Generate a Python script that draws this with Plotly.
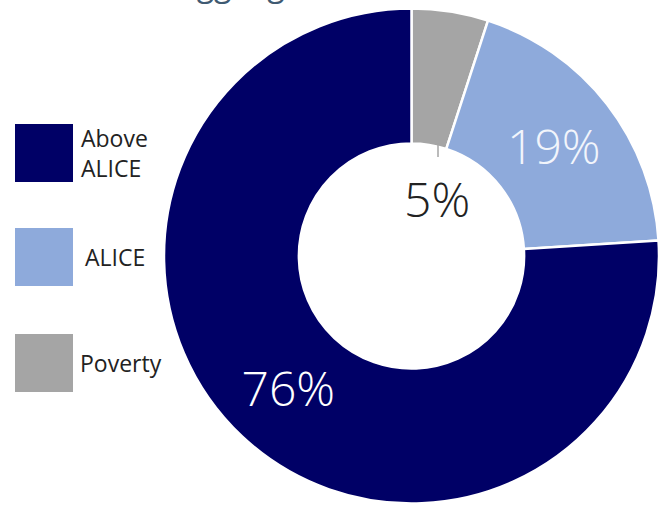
import plotly.graph_objects as go

# Data (legend order)
labels = ["Above ALICE", "ALICE", "Poverty"]
legend_text = ["Above<br>ALICE", "ALICE", "Poverty"]
values = [76, 19, 5]
colors = ["#000066", "#8eaadb", "#a5a5a5"]
text_colors = ["#ffffff", "#f2f5fb", "#222222"]
title_text = "Struggling"

W, H = 667, 508

def px(x):
    return x / W

def py(y):
    return 1 - y / H

slice_text = [f"{v}%" if v >= 10 else "" for v in values]

# pie drawn clockwise from 12 o'clock: Poverty, ALICE, Above ALICE
fig = go.Figure(go.Pie(
    labels=labels[::-1],
    values=values[::-1],
    marker=dict(colors=colors[::-1], line=dict(color="white", width=2.5)),
    hole=0.455,
    sort=False,
    direction="clockwise",
    rotation=0,
    text=slice_text[::-1],
    textinfo="text",
    textposition="inside",
    insidetextorientation="horizontal",
    insidetextfont=dict(size=48, color=text_colors[::-1], family="Open Sans", weight=300),
    hoverinfo="label+percent",
    showlegend=False,
    domain=dict(x=[px(411.5 - 247.5), px(411.5 + 247.5)],
                y=[py(503.5), py(8.5)]),
))

shapes = []
annotations = []
# custom large legend swatches
sw_top = [124, 228, 334]
text_x = [79, 83, 78]
for i, lab in enumerate(labels):
    shapes.append(dict(type="rect", xref="paper", yref="paper",
                       x0=px(15), x1=px(73), y0=py(sw_top[i] + 58), y1=py(sw_top[i]),
                       fillcolor=colors[i], line=dict(width=0)))
    annotations.append(dict(text=legend_text[i], xref="paper", yref="paper",
                            x=px(text_x[i]), y=py(sw_top[i] + 29),
                            xanchor="left", yanchor="middle", align="left",
                            showarrow=False,
                            font=dict(size=23, color="#222222", family="Open Sans")))

# small-slice label inside the hole with leader tick
small = values.index(min(values))
annotations.append(dict(text=f"{values[small]}%", xref="paper", yref="paper",
                        x=px(437), y=py(198), xanchor="center", yanchor="middle",
                        showarrow=False,
                        font=dict(size=48, color=text_colors[small], family="Open Sans", weight=300)))
shapes.append(dict(type="line", xref="paper", yref="paper",
                   x0=px(438), x1=px(438), y0=py(143), y1=py(157),
                   line=dict(color="#a5a5a5", width=1.5)))

# clipped title at top (only descenders visible, as in the reference)
annotations.append(dict(text=title_text, xref="paper", yref="paper",
                        x=px(210), y=py(7), xanchor="center", yanchor="bottom",
                        showarrow=False,
                        font=dict(size=32, color="#3f5a72", family="Open Sans")))

fig.update_layout(
    width=W, height=H,
    margin=dict(l=0, r=0, t=0, b=0),
    paper_bgcolor="white",
    plot_bgcolor="white",
    shapes=shapes,
    annotations=annotations,
)

fig.write_html("out.html",
               config={"displayModeBar": False},
               post_script="document.body.style.margin='0';document.body.style.overflow='hidden';")
